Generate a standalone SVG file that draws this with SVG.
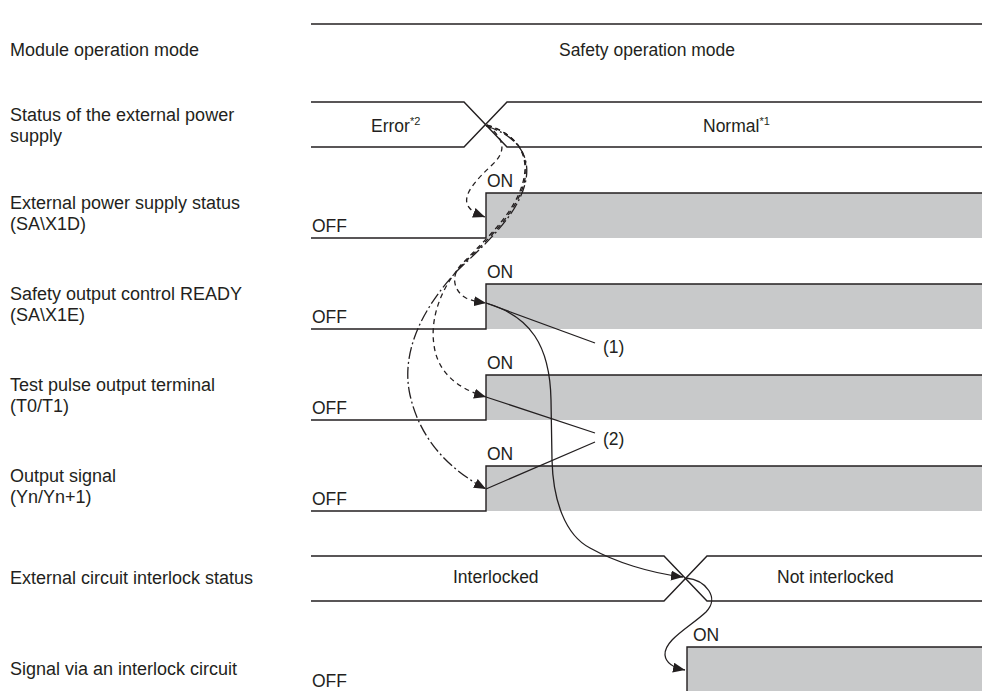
<svg xmlns="http://www.w3.org/2000/svg" width="982" height="691" viewBox="0 0 982 691">
<style>
text{font-family:"Liberation Sans",Arial,sans-serif;font-size:17.5px;fill:#231f20}
.lbl{font-size:18px}
.sup{font-size:11px}
.ln{fill:none;stroke:#231f20;stroke-width:1.4}
.on{fill:#c8c9ca;stroke:none}
.c{fill:none;stroke:#231f20;stroke-width:1.3}
.sd{stroke-dasharray:5 4}
.dd{stroke-dasharray:12 3 2 3}
</style>
<defs>
<marker id="ah" viewBox="0 0 12 10" refX="12" refY="5" markerWidth="12" markerHeight="10" markerUnits="userSpaceOnUse" orient="auto"><path d="M0,0 L12,5 L0,10 z" fill="#231f20"/></marker>
</defs>
<rect width="982" height="691" fill="#fff"/>

<g id="row-mode">
<text class="lbl" x="10" y="56">Module operation mode</text>
<path class="ln" d="M311,24 H982"/>
<text x="647" y="56" text-anchor="middle">Safety operation mode</text>
</g>

<g id="row-power">
<text class="lbl" x="10" y="121">Status of the external power</text>
<text class="lbl" x="10" y="142">supply</text>
<path class="ln" d="M311,102 H464 L507,147 H982 M311,147 H464 L507,102 H982"/>
<text x="371" y="132">Error<tspan class="sup" dy="-7">*2</tspan></text>
<text x="703" y="132">Normal<tspan class="sup" dy="-7">*1</tspan></text>
</g>

<g id="row-x1d">
<text class="lbl" x="10" y="209">External power supply status</text>
<text class="lbl" x="10" y="230">(SA\X1D)</text>
<rect class="on" x="486" y="193" width="496" height="45"/>
<path class="ln" d="M311,238 H486 V193 H982"/>
<text x="487" y="187">ON</text>
<text x="312" y="232">OFF</text>
</g>

<g id="row-x1e">
<text class="lbl" x="10" y="300">Safety output control READY</text>
<text class="lbl" x="10" y="321">(SA\X1E)</text>
<rect class="on" x="486" y="284" width="496" height="45"/>
<path class="ln" d="M311,329 H486 V284 H982"/>
<text x="487" y="278">ON</text>
<text x="312" y="323">OFF</text>
</g>

<g id="row-t0t1">
<text class="lbl" x="10" y="391">Test pulse output terminal</text>
<text class="lbl" x="10" y="412">(T0/T1)</text>
<rect class="on" x="486" y="375" width="496" height="45"/>
<path class="ln" d="M311,420 H486 V375 H982"/>
<text x="487" y="369">ON</text>
<text x="312" y="414">OFF</text>
</g>

<g id="row-yn">
<text class="lbl" x="10" y="482">Output signal</text>
<text class="lbl" x="10" y="503">(Yn/Yn+1)</text>
<rect class="on" x="486" y="466" width="496" height="45"/>
<path class="ln" d="M311,511 H486 V466 H982"/>
<text x="487" y="460">ON</text>
<text x="312" y="505">OFF</text>
</g>

<g id="row-interlock">
<text class="lbl" x="10" y="584">External circuit interlock status</text>
<path class="ln" d="M311,556 H664 L707,601 H982 M311,601 H664 L707,556 H982"/>
<text x="453" y="583">Interlocked</text>
<text x="777" y="583">Not interlocked</text>
</g>

<g id="row-signal">
<text class="lbl" x="10" y="675">Signal via an interlock circuit</text>
<rect class="on" x="687" y="647" width="295" height="50"/>
<path class="ln" d="M311,692 H687 V647 H982"/>
<text x="693" y="641">ON</text>
<text x="312" y="687">OFF</text>
</g>

<g id="connectors">
<path class="c sd" d="M487,125 C506,140 506,152 492,165 C476,180 462,195 468,206 C471,211 477,214 485,217" marker-end="url(#ah)"/>
<path class="c sd" d="M487,125 C528,138 536,170 510,210 C495,232 475,250 460,266 C450,278 455,292 466,298 C472,301 479,302 486,303" marker-end="url(#ah)"/>
<path class="c sd" d="M487,125 C529,139 537,171 511,211 C496,233 476,251 459,268 C440,290 430,320 434,345 C437,370 455,388 486,397" marker-end="url(#ah)"/>
<path class="c dd" d="M486,126 C530,140 538,172 512,212 C497,234 477,252 458,270 C425,305 400,350 410,395 C420,440 450,470 486,489" marker-end="url(#ah)"/>
<path class="c" d="M486,303 C530,316 550,345 551,400 L552,460 C553,500 565,535 590,548 C615,562 650,573 683,577" marker-end="url(#ah)"/>
<path class="c" d="M686,578 C706,580 720,598 706,612 C690,627 664,640 665,655 C666,664 675,668 685,670" marker-end="url(#ah)"/>
<path class="c" d="M486,303 L595,343"/>
<path class="c" d="M486,397 L595,433 M486,489 L595,442"/>
<text x="603" y="353">(1)</text>
<text x="603" y="445">(2)</text>
</g>
</svg>
